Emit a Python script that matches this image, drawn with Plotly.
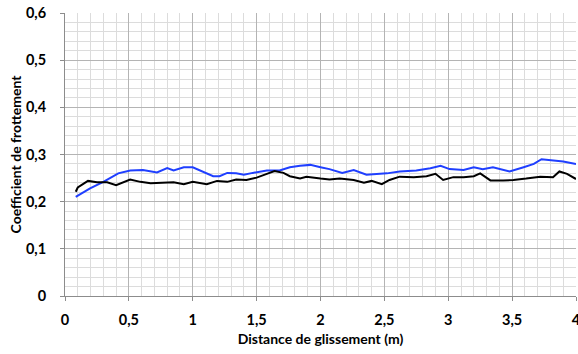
import plotly.graph_objects as go

blue_x = [0.084, 0.196, 0.30, 0.417, 0.51, 0.61, 0.72, 0.80, 0.85, 0.93, 1.0, 1.08, 1.16, 1.21, 1.27, 1.34, 1.40, 1.47, 1.58, 1.68, 1.76, 1.84, 1.92, 2.0,
          2.07, 2.17, 2.26, 2.36, 2.52, 2.62, 2.75, 2.86, 2.94, 3.01, 3.12, 3.20, 3.27, 3.35, 3.48, 3.59, 3.67, 3.73, 3.82, 3.90, 4.0]
blue_y = [0.210, 0.228, 0.242, 0.260, 0.266, 0.267, 0.262, 0.271, 0.266, 0.273, 0.273, 0.264, 0.254, 0.254, 0.261, 0.260, 0.257, 0.261, 0.266, 0.266, 0.273, 0.276, 0.278, 0.273,
          0.269, 0.261, 0.267, 0.257, 0.260, 0.264, 0.266, 0.271, 0.276, 0.269, 0.267, 0.273, 0.269, 0.273, 0.264, 0.273, 0.280, 0.290, 0.288, 0.285, 0.280]

black_x = [0.084, 0.10, 0.18, 0.25, 0.33, 0.40, 0.51, 0.59, 0.67, 0.74, 0.85, 0.93, 1.0, 1.11, 1.19, 1.27, 1.34, 1.42, 1.50, 1.58, 1.64, 1.71, 1.76, 1.84, 1.89, 2.0,
           2.07, 2.15, 2.26, 2.34, 2.40, 2.48, 2.54, 2.62, 2.73, 2.83, 2.90, 2.96, 3.04, 3.12, 3.20, 3.25, 3.33, 3.43, 3.51, 3.61, 3.72, 3.82, 3.87, 3.93, 4.0]
black_y = [0.221, 0.230, 0.244, 0.241, 0.241, 0.235, 0.247, 0.242, 0.239, 0.240, 0.241, 0.237, 0.242, 0.237, 0.244, 0.242, 0.247, 0.246, 0.251, 0.259, 0.265, 0.261, 0.254, 0.249, 0.253, 0.249,
           0.247, 0.249, 0.246, 0.240, 0.244, 0.237, 0.246, 0.253, 0.252, 0.254, 0.259, 0.246, 0.252, 0.252, 0.254, 0.260, 0.245, 0.245, 0.246, 0.249, 0.253, 0.252, 0.264, 0.259, 0.248]

x_tickvals = [0, 0.5, 1, 1.5, 2, 2.5, 3, 3.5, 4]
x_ticktext = ["0", "0,5", "1", "1,5", "2", "2,5", "3", "3,5", "4"]
y_tickvals = [0, 0.1, 0.2, 0.3, 0.4, 0.5, 0.6]
y_ticktext = ["0", "0,1", "0,2", "0,3", "0,4", "0,5", "0,6"]

x_title = "Distance de glissement (m)"
y_title = "Coefficient de frottement"

FONT = "Lato"
TICKFONT = dict(family=FONT, size=14.5, color="#000000", weight="bold")
TITLEFONT = dict(family=FONT, size=14, color="#000000", weight="bold")

fig = go.Figure()
fig.add_trace(go.Scatter(x=blue_x, y=blue_y, mode="lines", line=dict(color="#1f3fff", width=2), showlegend=False, hoverinfo="skip"))
fig.add_trace(go.Scatter(x=black_x, y=black_y, mode="lines", line=dict(color="#000000", width=2), showlegend=False, hoverinfo="skip"))

axis_common = dict(
    showline=True, linecolor="#8c8c8c", linewidth=1,
    ticks="outside", ticklen=4, tickcolor="#8c8c8c",
    gridcolor="#b4b4b4", gridwidth=1,
    zeroline=False, automargin=False,
    tickfont=TICKFONT, tickmode="array",
    ticklabeloverflow="allow",
)

fig.update_xaxes(range=[0, 4], tickvals=x_tickvals, ticktext=x_ticktext,
                 minor=dict(dtick=0.1, tick0=0, showgrid=True, gridcolor="#dcdcdc", gridwidth=1, ticks=""),
                 title=dict(text=x_title, font=TITLEFONT, standoff=6),
                 ticklabelstandoff=7,
                 **axis_common)
fig.update_yaxes(range=[0, 0.6], tickvals=y_tickvals, ticktext=y_ticktext,
                 minor=dict(dtick=0.02, tick0=0, showgrid=True, gridcolor="#dcdcdc", gridwidth=1, ticks=""),
                 title=dict(text=y_title, font=TITLEFONT, standoff=0),
                 ticklabelstandoff=11,
                 **axis_common)

fig.update_layout(
    width=578, height=354,
    margin=dict(l=65, r=2, t=13, b=58),
    paper_bgcolor="white", plot_bgcolor="white",
    font=dict(family=FONT),
)

fig.write_html("out.html", config={"displayModeBar": False},
               post_script="document.body.style.margin='0';")
